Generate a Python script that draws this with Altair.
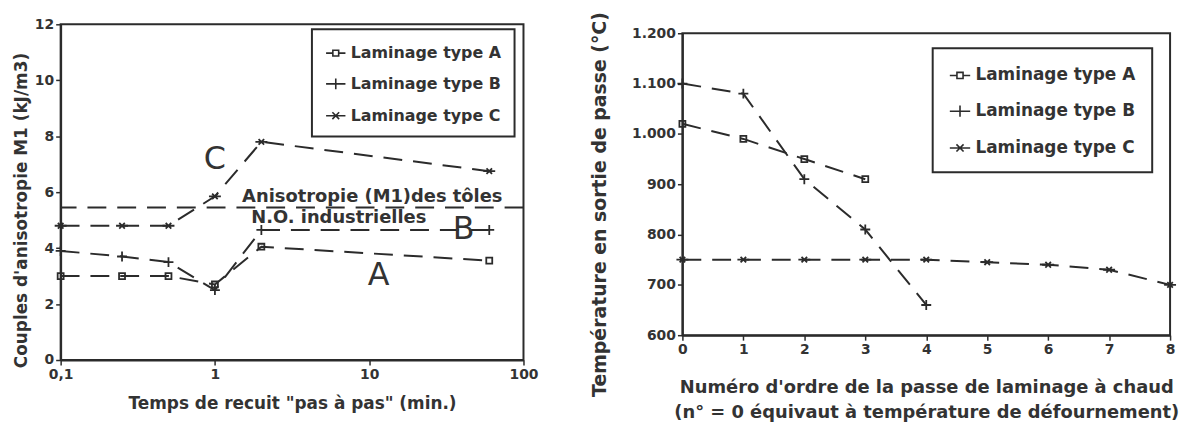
import altair as alt
import pandas as pd

SERIES = ["Laminage type A", "Laminage type B", "Laminage type C"]

# ---------- left panel: anisotropy vs annealing time ----------
recuit_min = [0.1, 0.25, 0.5, 1, 2, 60]
m1_A = [3.0, 3.0, 3.0, 2.7, 4.05, 3.55]
m1_B = [3.9, 3.7, 3.5, 2.5, 4.65, 4.65]
m1_C = [4.8, 4.8, 4.8, 5.85, 7.8, 6.75]
m1_industrial = [5.45]
left_x_ticks = [0.1, 1, 10, 100]
left_y_ticks = [0, 2, 4, 6, 8, 10, 12]

letter_text = ["C", "B", "A"]
letter_x = [1.0, 41.0, 11.5]
letter_y = [7.2, 4.68, 3.05]
note_text = ["Anisotropie (M1)des tôles", "N.O. industrielles"]
note_x = [1.5, 1.72]
note_y = [5.82, 5.08]

# ---------- right panel: temperature vs pass number ----------
passe_A = [0, 1, 2, 3]
temp_A = [1020, 990, 950, 910]
passe_B = [0, 1, 2, 3, 4]
temp_B = [1100, 1080, 910, 810, 660]
passe_C = [0, 1, 2, 3, 4, 5, 6, 7, 8]
temp_C = [750, 750, 750, 750, 750, 745, 740, 730, 700]
right_x_ticks = [0, 1, 2, 3, 4, 5, 6, 7, 8]
right_y_ticks = [600, 700, 800, 900, 1000, 1100, 1200]

INK = "#2b2b2b"
DASH = [19, 11]
FONT = "DejaVu Sans"

marker_paths = [
    "M-0.3,-0.3H0.3V0.3H-0.3Z",
    "M-0.5,0H0.5M0,-0.5V0.5",
    "M-0.6,0H0.6M-0.28,-0.28L0.28,0.28M-0.28,0.28L0.28,-0.28",
]
legend_paths = [
    "M-1,0H-0.3M0.3,0H1M-0.3,-0.3H0.3V0.3H-0.3Z",
    "M-1,0H1M0,-0.55V0.55",
    "M-1,0H1M-0.35,-0.35L0.35,0.35M-0.35,0.35L0.35,-0.35",
]


def long_df(xs_list, ys_list):
    rows = []
    for name, xs, ys in zip(SERIES, xs_list, ys_list):
        for xv, yv in zip(xs, ys):
            rows.append({"series": name, "x": xv, "y": yv})
    return pd.DataFrame(rows)


def panel(df, x_enc, y_enc, legend_kw, extra_layers, width, height):
    base = alt.Chart(df)
    lines = base.mark_line(color=INK, strokeWidth=2, strokeDash=DASH).encode(
        x=x_enc, y=y_enc, detail="series:N"
    )
    points = base.mark_point(filled=False, color=INK, strokeWidth=1.8, opacity=1).encode(
        x=x_enc,
        y=y_enc,
        shape=alt.Shape("series:N", scale=alt.Scale(domain=SERIES, range=marker_paths), legend=None),
        size=alt.value(400),
    )
    legend_layer = base.transform_filter("false").mark_point(filled=False, color=INK, opacity=1).encode(
        x=x_enc,
        y=y_enc,
        shape=alt.Shape(
            "series:N",
            scale=alt.Scale(domain=SERIES, range=legend_paths),
            legend=alt.Legend(
                title=None,
                orient="none",
                strokeColor=INK,
                fillColor="white",
                labelFont=FONT,
                labelFontWeight="bold",
                labelColor="#333",
                labelLimit=400,
                symbolStrokeColor=INK,
                symbolStrokeWidth=1.6,
                labelOffset=4,
                **legend_kw,
            ),
        ),
    )
    layers = [lines, points, legend_layer] + extra_layers
    return alt.layer(*layers).resolve_scale(shape="independent").properties(width=width, height=height)


# left
df_left = long_df([recuit_min] * 3, [m1_A, m1_B, m1_C])
xL = alt.X(
    "x:Q",
    scale=alt.Scale(type="log", domain=[0.1, 100]),
    axis=alt.Axis(
        values=left_x_ticks,
        labelExpr="replace(format(datum.value, '~g'), '.', ',')",
        title='Temps de recuit "pas à pas" (min.)',
        titleFontSize=17,
        titlePadding=14,
        labelPadding=3,
    ),
)
yL = alt.Y(
    "y:Q",
    scale=alt.Scale(domain=[0, 12], nice=False),
    axis=alt.Axis(
        values=left_y_ticks,
        title="Couples d'anisotropie M1 (kJ/m3)",
        titleFontSize=17,
        titlePadding=4,
        titleY=187,
        labelPadding=2,
    ),
)
ref_rule = alt.Chart(pd.DataFrame({"y": m1_industrial})).mark_rule(
    color=INK, strokeWidth=2, strokeDash=DASH
).encode(y=yL)
letters = alt.Chart(pd.DataFrame({"x": letter_x, "y": letter_y, "t": letter_text})).mark_text(
    font=FONT, fontSize=32, color="#333", baseline="middle", align="center"
).encode(x=xL, y=yL, text="t:N")
notes = alt.Chart(pd.DataFrame({"x": note_x, "y": note_y, "t": note_text})).mark_text(
    font=FONT, fontSize=18, fontWeight="bold", color="#333", baseline="middle", align="left"
).encode(x=xL, y=yL, text="t:N")

left = panel(
    df_left,
    xL,
    yL,
    dict(legendX=253, legendY=5, padding=13, rowPadding=12, labelFontSize=16, symbolSize=380),
    [ref_rule, letters, notes],
    466,
    338,
)

# right
RIGHT_W = 491
df_right = long_df([passe_A, passe_B, passe_C], [temp_A, temp_B, temp_C])
xR = alt.X(
    "x:Q",
    scale=alt.Scale(domain=[0, 8], nice=False),
    axis=alt.Axis(
        values=right_x_ticks,
        format="d",
        title=[
            "Numéro d'ordre de la passe de laminage à chaud",
            "(n° = 0 équivaut à température de défournement)",
        ],
        titleFontSize=18,
        titleLineHeight=25,
        titlePadding=23,
        labelPadding=2,
    ),
)
yR = alt.Y(
    "y:Q",
    scale=alt.Scale(domain=[600, 1200], nice=False),
    axis=alt.Axis(
        values=right_y_ticks,
        labelExpr="replace(format(datum.value, ','), ',', '.')",
        title="Température en sortie de passe (°C)",
        titleFontSize=19,
        titlePadding=22,
        titleY=172,
        labelPadding=2,
    ),
)
right_panel = panel(
    df_right,
    xR,
    yR,
    dict(legendX=252, legendY=15, padding=16, rowPadding=16, labelFontSize=17, symbolSize=420),
    [],
    RIGHT_W,
    304,
)
spacer = (
    alt.Chart(pd.DataFrame({"v": [0]}))
    .mark_point(opacity=0)
    .encode(x=alt.value(0), y=alt.value(0))
    .properties(width=RIGHT_W, height=1, view=alt.ViewBackground(stroke="transparent"))
)
right = alt.vconcat(spacer, right_panel, spacing=8, bounds="flush")

chart = (
    alt.hconcat(left, right, spacing=50)
    .resolve_scale(shape="independent")
    .resolve_legend(shape="independent")
    .properties(padding={"left": 3, "top": 1, "right": 0, "bottom": 0}, background="white")
    .configure(font=FONT)
    .configure_view(stroke=INK, strokeWidth=2)
    .configure_axis(
        grid=False,
        domainColor=INK,
        domainWidth=2,
        tickColor=INK,
        tickWidth=1.5,
        tickSize=5,
        labelFont=FONT,
        labelFontWeight="bold",
        labelFontSize=14,
        labelColor="#333",
        labelFlush=False,
        labelOverlap=False,
        titleFont=FONT,
        titleFontWeight="bold",
        titleColor="#333",
    )
    .configure_legend(strokeWidth=2)
)

chart.save("out.html", embed_options={"renderer": "svg", "actions": False})
